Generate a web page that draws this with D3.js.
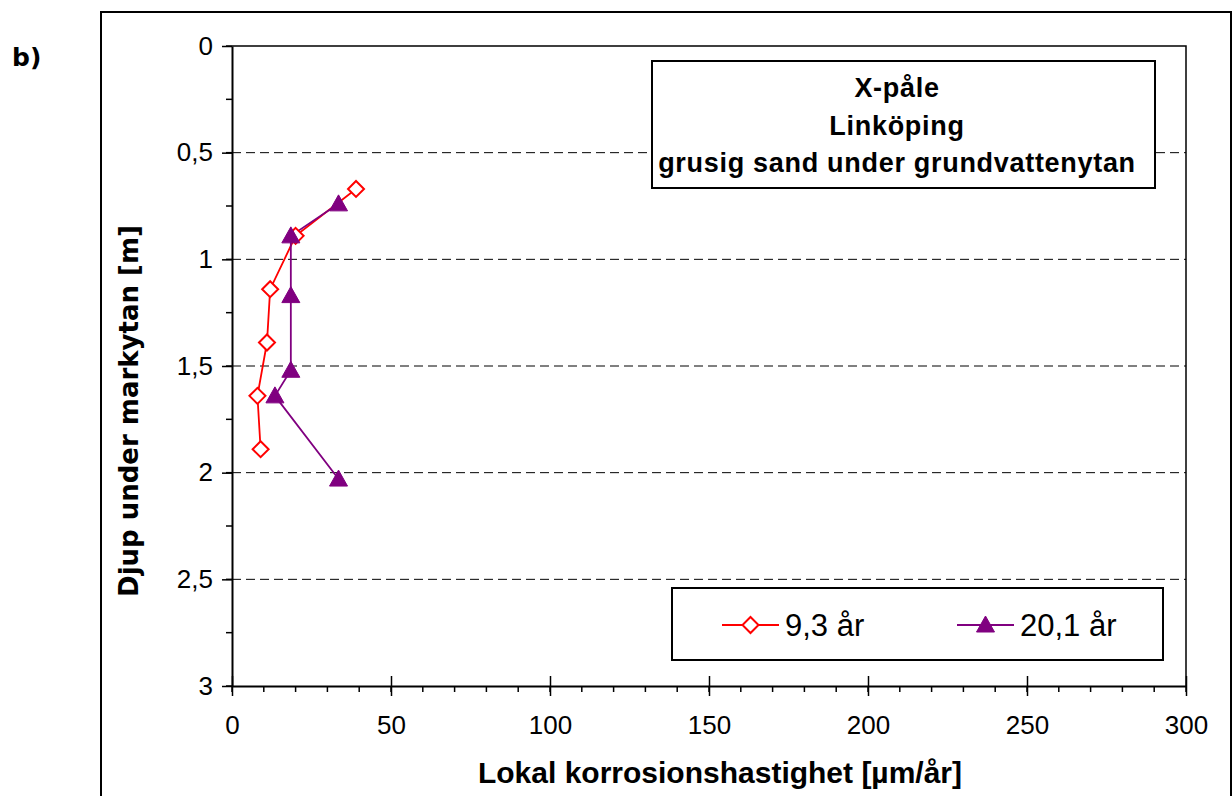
<!DOCTYPE html>
<html>
<head>
<meta charset="utf-8">
<script src="https://cdn.jsdelivr.net/npm/d3@7"></script>
<style>
  html, body { margin: 0; padding: 0; background: #fff; }
  svg { display: block; }
</style>
</head>
<body>
<svg id="chart" width="1232" height="796"></svg>
<script>
// Corrosion rate (µm/år) versus depth below ground surface (m)
const depth93 = [0.67, 0.89, 1.14, 1.39, 1.64, 1.89];
const rate93  = [39, 20, 12, 11, 8, 9];
const depth201 = [0.74, 0.89, 1.17, 1.52, 1.64, 2.03];
const rate201  = [33.5, 18.5, 18.5, 18.5, 13.5, 33.5];

const seriesNames = ["9,3 år", "20,1 år"];
const xTicks = [0, 50, 100, 150, 200, 250, 300];
const yTicks = [0, 0.5, 1, 1.5, 2, 2.5, 3];
const titleLines = ["X-påle", "Linköping", "grusig sand under grundvattenytan"];

const svg = d3.select("#chart");
const plot = { left: 232, right: 1186, top: 46, bottom: 686 };

const x = d3.scaleLinear().domain([0, 300]).range([plot.left, plot.right]);
const y = d3.scaleLinear().domain([0, 3]).range([plot.top, plot.bottom]);

const fmt = d => String(d).replace(".", ",");
const SANS = "Liberation Sans, Arial, sans-serif";

// outer chart frame
svg.append("rect")
  .attr("x", 101).attr("y", 12).attr("width", 1130).attr("height", 800)
  .attr("fill", "none").attr("stroke", "#000").attr("stroke-width", 2);

svg.append("text")
  .attr("x", 12).attr("y", 66)
  .attr("font-family", "DejaVu Sans").attr("font-weight", "bold")
  .attr("font-size", 25).text("b)");

// dashed horizontal gridlines
svg.append("g").selectAll("line")
  .data(yTicks.filter(d => d > 0 && d < 3))
  .join("line")
  .attr("x1", plot.left).attr("x2", plot.right)
  .attr("y1", d => y(d)).attr("y2", d => y(d))
  .attr("stroke", "#000").attr("stroke-width", 1)
  .attr("stroke-dasharray", "9,5");

// plot frame top/right
svg.append("path")
  .attr("d", `M${plot.left},${plot.top}H${plot.right}V${plot.bottom}`)
  .attr("fill", "none").attr("stroke", "#000").attr("stroke-width", 1.5);

// minor ticks
const xMinor = d3.range(0, 301, 10);
const yMinor = d3.range(0, 3.001, 0.25);
svg.append("g").selectAll("line").data(xMinor).join("line")
  .attr("x1", d => x(d)).attr("x2", d => x(d))
  .attr("y1", plot.bottom).attr("y2", plot.bottom + 6)
  .attr("stroke", "#000").attr("stroke-width", 1.5);
svg.append("g").selectAll("line").data(yMinor).join("line")
  .attr("x1", plot.left - 6).attr("x2", plot.left)
  .attr("y1", d => y(d)).attr("y2", d => y(d))
  .attr("stroke", "#000").attr("stroke-width", 1.5);

// X axis
const xAxis = svg.append("g")
  .attr("transform", `translate(0,${plot.bottom})`)
  .call(d3.axisBottom(x).tickValues(xTicks).tickSize(10).tickSizeOuter(0).tickPadding(20).tickFormat(fmt));
xAxis.select(".domain").attr("stroke-width", 2);
xAxis.selectAll(".tick line").attr("y1", -10).attr("stroke-width", 1.5);
xAxis.selectAll("text")
  .attr("font-family", SANS).attr("font-size", 26).attr("fill", "#000");

// Y axis
const yAxis = svg.append("g")
  .attr("transform", `translate(${plot.left},0)`)
  .call(d3.axisLeft(y).tickValues(yTicks).tickSize(10).tickSizeOuter(0).tickPadding(9).tickFormat(fmt));
yAxis.select(".domain").attr("stroke-width", 2);
yAxis.selectAll(".tick line").attr("stroke-width", 1.5);
yAxis.selectAll("text")
  .attr("font-family", SANS).attr("font-size", 26).attr("fill", "#000");

// axis titles
svg.append("text")
  .attr("x", 720).attr("y", 783)
  .attr("text-anchor", "middle")
  .attr("font-family", SANS).attr("font-weight", "bold")
  .attr("font-size", 30).text("Lokal korrosionshastighet [µm/år]");

svg.append("text")
  .attr("transform", "translate(138,411) rotate(-90)")
  .attr("text-anchor", "middle")
  .attr("font-family", "DejaVu Sans").attr("font-weight", "bold")
  .attr("font-size", 26).text("Djup under markytan [m]");

// series
const line = d3.line().x(d => x(d[0])).y(d => y(d[1]));
const s93 = rate93.map((r, i) => [r, depth93[i]]);
const s201 = rate201.map((r, i) => [r, depth201[i]]);

const red = "#ff0000", purple = "#800080";
const diamond = "M0,-8L8,0L0,8L-8,0Z";
const triangle = "M0,-9L9,7L-9,7Z";

svg.append("path").datum(s93).attr("d", line)
  .attr("fill", "none").attr("stroke", red).attr("stroke-width", 1.8);
svg.append("path").datum(s201).attr("d", line)
  .attr("fill", "none").attr("stroke", purple).attr("stroke-width", 1.8);

svg.append("g").selectAll("path").data(s93).join("path")
  .attr("transform", d => `translate(${x(d[0])},${y(d[1])})`)
  .attr("d", diamond).attr("fill", "#fff").attr("stroke", red).attr("stroke-width", 2);
svg.append("g").selectAll("path").data(s201).join("path")
  .attr("transform", d => `translate(${x(d[0])},${y(d[1])})`)
  .attr("d", triangle).attr("fill", purple).attr("stroke", purple).attr("stroke-width", 1);

// title box
svg.append("rect")
  .attr("x", 652).attr("y", 61).attr("width", 503).attr("height", 127)
  .attr("fill", "#fff").attr("stroke", "#000").attr("stroke-width", 2);
svg.append("g").selectAll("text").data(titleLines).join("text")
  .attr("x", 897).attr("y", (d, i) => 97 + i * 37.5)
  .attr("text-anchor", "middle")
  .attr("font-family", SANS).attr("font-weight", "bold")
  .attr("letter-spacing", 0.7)
  .attr("font-size", 27).text(d => d);

// legend
svg.append("rect")
  .attr("x", 672).attr("y", 588).attr("width", 491).attr("height", 72)
  .attr("fill", "#fff").attr("stroke", "#000").attr("stroke-width", 2);
const legendItems = [
  { name: seriesNames[0], color: red, shape: diamond, fill: "#fff", x0: 722 },
  { name: seriesNames[1], color: purple, shape: triangle, fill: purple, x0: 957 }
];
const lg = svg.append("g").selectAll("g").data(legendItems).join("g")
  .attr("transform", d => `translate(${d.x0},625)`);
lg.append("line").attr("x1", 0).attr("x2", 57)
  .attr("stroke", d => d.color).attr("stroke-width", 1.8);
lg.append("path").attr("transform", "translate(28.5,0)")
  .attr("d", d => d.shape).attr("fill", d => d.fill)
  .attr("stroke", d => d.color).attr("stroke-width", d => d.fill === "#fff" ? 2 : 1);
lg.append("text").attr("x", 63).attr("y", 11)
  .attr("font-family", SANS).attr("font-size", 31).text(d => d.name);
</script>
</body>
</html>
